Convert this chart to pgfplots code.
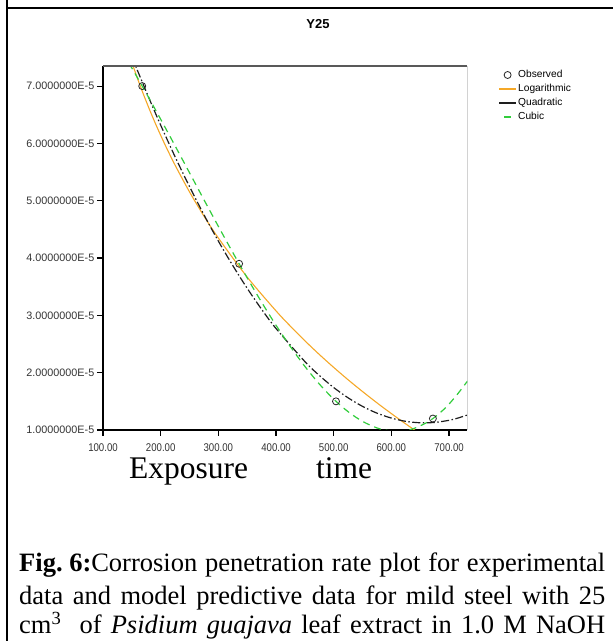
\documentclass[border=0pt]{standalone}
\usepackage{fontspec}
\setmainfont{Liberation Serif}
\newfontfamily\arial{Liberation Sans}
\newfontfamily\arialnarrow[FakeStretch=0.86]{Liberation Sans}
\usepackage{pgfplots}
\pgfplotsset{compat=1.18}
\definecolor{logorange}{RGB}{245,168,40}
\definecolor{cubgreen}{RGB}{50,205,60}
\definecolor{quadblack}{RGB}{30,30,30}

\begin{document}
\begin{tikzpicture}[x=1pt,y=1pt]
\useasboundingbox (0,0) rectangle (613,641);
% table cell rules
\draw[line width=2pt] (7,0) -- (7,641);
\draw[line width=2pt] (6,632.5) -- (613,632.5);
% chart title
\node[font=\arial\bfseries\fontsize{13}{15}\selectfont] at (318,617) {Y25};

\begin{axis}[
  at={(103pt,211pt)}, anchor=south west,
  scale only axis, width=364.5pt, height=364pt,
  xmin=100, xmax=732, ymin=1e-5, ymax=7.35e-5,
  scaled y ticks=false, scaled x ticks=false,
  axis lines=left,
  axis line style={black, line width=1.1pt, -},
  tick align=outside,
  major tick length=6pt,
  tick style={black, line width=1.1pt},
  xtick={100,200,300,400,500,600,700},
  xticklabels={100.00,200.00,300.00,400.00,500.00,600.00,700.00},
  ytick={1e-5,2e-5,3e-5,4e-5,5e-5,6e-5,7e-5},
  yticklabels={1.0000000E-5,2.0000000E-5,3.0000000E-5,4.0000000E-5,5.0000000E-5,6.0000000E-5,7.0000000E-5},
  xticklabel style={font=\arialnarrow\fontsize{11.2}{12}\selectfont, text=black!80, inner sep=1pt, yshift=-6pt},
  yticklabel style={font=\arial\fontsize{10.8}{12}\selectfont, text=black!80, inner sep=1pt, xshift=-1.5pt},
  legend cell align=left,
  legend style={draw=none, fill=none, at={(axis description cs:1.085,0.9945)}, anchor=north west,
    inner sep=0pt, outer sep=0pt, row sep=0pt,
    font=\arial\fontsize{10.2}{12}\selectfont,
    nodes={inner sep=1.5pt, text height=8pt, text depth=3pt}},
]
% observed penetration rates
\addplot[only marks, mark=o, mark size=3.5pt, mark options={line width=0.8pt, draw=black!85}]
  coordinates {(168,7.0e-5) (336,3.9e-5) (504,1.5e-5) (672,1.2e-5)};
\addlegendentry{Observed}
% logarithmic model
\addplot[logorange, line width=1.1pt, smooth] coordinates {
  (150,7.412e-5) (160,7.127e-5) (170,6.859e-5) (180,6.606e-5) (190,6.367e-5)
  (200,6.141e-5) (210,5.925e-5) (225,5.620e-5) (250,5.154e-5) (275,4.733e-5)
  (300,4.349e-5) (350,3.668e-5) (400,3.078e-5) (425,2.810e-5) (450,2.557e-5)
  (475,2.318e-5) (500,2.092e-5) (525,1.876e-5) (550,1.671e-5) (575,1.474e-5)
  (600,1.286e-5) (620,1.141e-5) (640,1.001e-5) (660,0.865e-5)};
\addlegendentry{Logarithmic}
% quadratic model
\addplot[quadblack, line width=1.2pt, dash pattern=on 8pt off 2.5pt on 1.5pt off 2.5pt, smooth,
  legend image code/.code={\draw[quadblack, solid, line width=1.2pt] (0pt,0pt) -- (17pt,0pt);}] coordinates {
  (150,7.515e-5) (160,7.266e-5) (180,6.783e-5) (200,6.318e-5) (225,5.766e-5)
  (250,5.246e-5) (275,4.755e-5) (300,4.296e-5) (325,3.869e-5) (350,3.472e-5)
  (375,3.106e-5) (400,2.771e-5) (450,2.194e-5) (475,1.952e-5) (500,1.741e-5)
  (525,1.561e-5) (550,1.412e-5) (575,1.294e-5) (600,1.208e-5) (625,1.151e-5)
  (650,1.126e-5) (675,1.132e-5) (700,1.169e-5) (715,1.207e-5) (732,1.262e-5)};
\addlegendentry{Quadratic}
% cubic model
\addplot[cubgreen, line width=1.2pt, dash pattern=on 7pt off 5pt, smooth,
  legend image code/.code={\draw[cubgreen, solid, line width=1.2pt] (5pt,0pt) -- (11.5pt,0pt);}] coordinates {
  (145,7.401e-5) (160,7.141e-5) (180,6.785e-5) (200,6.421e-5) (225,5.957e-5)
  (250,5.488e-5) (275,5.018e-5) (300,4.553e-5) (325,4.097e-5) (350,3.654e-5)
  (375,3.229e-5) (400,2.827e-5) (425,2.453e-5) (450,2.110e-5) (475,1.803e-5)
  (500,1.538e-5) (525,1.319e-5) (550,1.150e-5) (575,1.036e-5) (590,0.996e-5)
  (610,0.978e-5) (625,0.992e-5) (640,1.030e-5) (660,1.122e-5) (675,1.222e-5)
  (690,1.351e-5) (700,1.452e-5) (715,1.630e-5) (732,1.853e-5)};
\addlegendentry{Cubic}
% plot frame, top and right
\draw[black!65, line width=1.1pt] (rel axis cs:0,1) -- (rel axis cs:1,1);
\draw[black!50, line width=1.6pt] (rel axis cs:1,1) -- (rel axis cs:1,0);
\end{axis}

% x-axis caption
\node[anchor=base west, font=\fontsize{31.5}{34}\selectfont, inner sep=0pt] at (129,162) {Exposure};
\node[anchor=base west, font=\fontsize{31.5}{34}\selectfont, inner sep=0pt] at (316,162) {time};

% figure caption
\begin{scope}[every node/.style={anchor=base west, inner sep=0pt, font=\fontsize{26.5}{30}\selectfont}]
\node at (19,69) {\makebox[586pt][s]{\textbf{Fig.\kern0.25em6:}Corrosion penetration rate plot for experimental}};
\node at (19,37) {\makebox[586pt][s]{data and model predictive data for mild steel with 25}};
\node at (19,7) {\makebox[586pt][s]{cm\textsuperscript{3}\ \ of \textit{Psidium guajava} leaf extract in 1.0 M NaOH}};
\end{scope}
\end{tikzpicture}
\end{document}
